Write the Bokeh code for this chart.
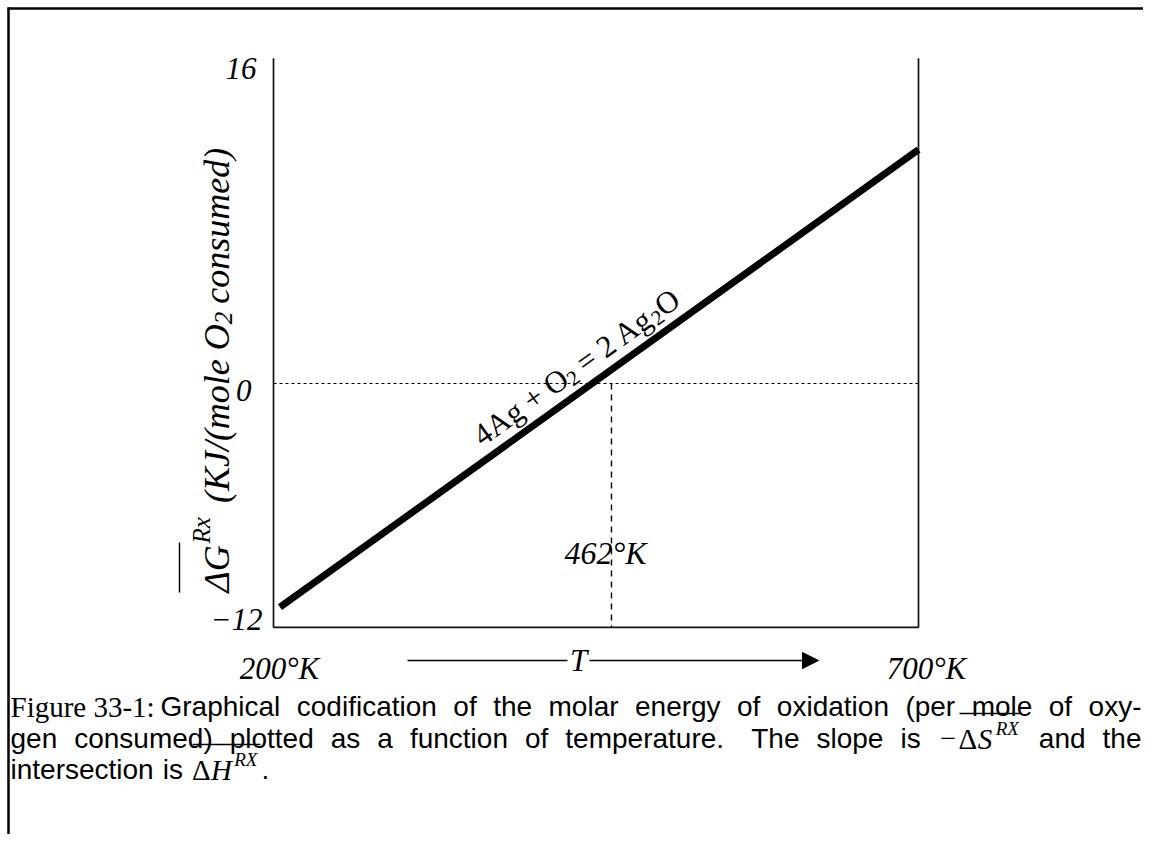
import math
from bokeh.plotting import figure
from bokeh.models import Range1d, Arrow, NormalHead, ColumnDataSource
from bokeh.core.properties import value
from bokeh.embed import file_html
from bokeh.resources import INLINE

# ---------------- data ----------------
T_ends = [200, 700]                 # temperature extent of the diagram (K)
T_end_labels = ["200°K", "700°K"]
G_ticks = [16, 0, -12]              # kJ/(mole O2 consumed)
G_tick_labels = ["16", "0", "−12"]
T_line = [205, 700]                 # reaction line 4Ag + O2 = 2 Ag2O
G_line = [-11.0, 11.5]
T_eq = 462                          # temperature where the line meets ΔG = 0
T_eq_label = "462°K"

# ---------------- layout helpers (picture pixels -> data) ----------------
W, H = 1143, 834
PX_PER_K = 1.29
PX_PER_KJ = 20.33
X_T200 = 273
Y_G0 = 383


def tx(px):
    return T_ends[0] + (px - X_T200) / PX_PER_K


def gy(py):
    return (Y_G0 - py) / PX_PER_KJ


SERIF = value("Liberation Serif")
SANS = value("Liberation Sans")

p = figure(width=W, height=H, title=None,
           x_range=Range1d(tx(0), tx(W)), y_range=Range1d(gy(H), gy(0)),
           output_backend="svg", toolbar_location=None,
           x_axis_location=None, y_axis_location=None, min_border=0)
p.grid.visible = False
p.outline_line_color = None
p.background_fill_color = "white"
p.border_fill_color = "white"


def txt(px, py, s, font=SERIF, size=30, style="normal", align="left",
        baseline="alphabetic", angle=0.0):
    p.text(x=[tx(px)], y=[gy(py)], text=[s], angle=angle, text_font=font,
           text_font_style=style, text_font_size=f"{size}px", text_align=align,
           text_baseline=baseline, text_color="black")


def hrule(x0, x1, py, w=1.4):
    p.segment(x0=[tx(x0)], y0=[gy(py)], x1=[tx(x1)], y1=[gy(py)], line_color="black", line_width=w)


# outer frame (top and left edges)
p.segment(x0=[tx(7), tx(8)], y0=[gy(8), gy(7)], x1=[tx(W), tx(8)], y1=[gy(8), gy(H)],
          line_color="black", line_width=2.5)

# diagram box: left, right and bottom edges
Gmin, Gmax = min(G_ticks), max(G_ticks)
p.segment(x0=[T_ends[0], T_ends[1], T_ends[0]], y0=[Gmin, Gmin, Gmin],
          x1=[T_ends[0], T_ends[1], T_ends[1]], y1=[Gmax, Gmax, Gmin],
          line_color="#111111", line_width=1.7)

# zero line (dotted) and equilibrium temperature (dashed)
p.line(x=T_ends, y=[0, 0], line_color="black", line_width=1.2, line_dash="3 3")
p.line(x=[T_eq, T_eq], y=[0, Gmin], line_color="black", line_width=1.4, line_dash="6 5")

# reaction line
p.line(x=T_line, y=G_line, line_color="black", line_width=7, line_cap="butt")

# tick labels
tick_src = ColumnDataSource(dict(x=[tx(256)] * 3, y=G_ticks, text=G_tick_labels,
                                 xo=[0, -5, 6], yo=[10, 7, -8]))
p.text(x="x", y="y", text="text", x_offset="xo", y_offset="yo", source=tick_src,
       text_font=SERIF, text_font_style="italic", text_font_size="31px",
       text_align="right", text_baseline="middle", text_color="black")

# temperature end labels
LAB_Y = 668
p.text(x=T_ends, y=[gy(LAB_Y)] * 2, text=T_end_labels, x_offset=[6, 8],
       text_font=SERIF, text_font_style="italic", text_font_size="31px",
       text_align="center", text_baseline="middle", text_color="black")

# T arrow
ARR_Y = 660
p.segment(x0=[tx(407)], y0=[gy(ARR_Y)], x1=[tx(567)], y1=[gy(ARR_Y)], line_color="black", line_width=1.5)
p.add_layout(Arrow(end=NormalHead(size=16, fill_color="black", line_color="black"),
                   x_start=tx(589), y_start=gy(ARR_Y), x_end=tx(818), y_end=gy(ARR_Y),
                   line_color="black", line_width=1.5))
txt(578, ARR_Y, "T", size=31, style="italic", align="center", baseline="middle")

# equilibrium label
p.text(x=[T_eq], y=[gy(552)], text=[T_eq_label], x_offset=[-6],
       text_font=SERIF, text_font_style="italic", text_font_size="32px",
       text_align="center", text_baseline="middle", text_color="black")

# ---------------- text metrics (em units) ----------------
TR = {'4': .5, 'A': .722, 'g': .5, ' ': .25, '+': .564, 'O': .722, '=': .564, '2': .5, '−': .564}
TI = {'Δ': .612, 'G': .722, 'R': .611, 'x': .444, ' ': .25, '(': .333, 'K': .667, 'J': .444,
      '/': .278, 'm': .722, 'o': .5, 'l': .278, 'e': .444, 'O': .722, '2': .5, 'c': .444,
      'n': .5, 's': .389, 'u': .5, 'd': .5, ')': .333, 'S': .5, 'H': .722, 'X': .611}
AR = {'a': .556, 'b': .556, 'c': .5, 'd': .556, 'e': .556, 'f': .278, 'g': .556, 'h': .556,
      'i': .222, 'j': .222, 'k': .5, 'l': .222, 'm': .833, 'n': .556, 'o': .556, 'p': .556,
      'q': .556, 'r': .333, 's': .5, 't': .278, 'u': .556, 'v': .5, 'w': .722, 'x': .5,
      'y': .5, 'z': .5, 'G': .778, 'T': .611, 'F': .611, '(': .333, ')': .333, '-': .333,
      '.': .278, ':': .278, ' ': .278}
MW = {'−': .72, 'Δ': .66, 'S': .62, 'H': .80, 'R': .66, 'X': .72}


def tw(s, size, table):
    return sum(table.get(c, .556) for c in s) * size


# reaction label along the line
ang = math.atan2(456, 638)
ux, uy = math.cos(ang), -math.sin(ang)
nx, ny = math.sin(ang), math.cos(ang)
RF, RS = 31, 21
pieces = [("4Ag + O", RF, 0, 0), ("2", RS, 7, 7), ("= 2 Ag", RF, 0, 0), ("2", RS, 7, 0), ("O", RF, 0, 0)]
bx, by = 476, 438
pos = 0
for s, size, dd, gap_after in pieces:
    txt(bx + pos * ux + dd * nx, by + pos * uy + dd * ny, s, size=size, angle=ang)
    pos += tw(s, size, TR) + gap_after

# y-axis title (rotated, reads bottom to top)
YF, YS = 36, 25
base_x, start_y = 216, 592
ypieces = [("ΔG", YF, 0, 1), ("Rx", YS, -15, 14), ("(KJ/(mole O", YF, 0, 0), ("2", YS, 7, 8),
           ("consumed)", YF, 0, 0)]
pos = 0
for s, size, dx, gap_after in ypieces:
    txt(base_x + dx, start_y - pos, s, size=size, style="italic", angle=math.pi / 2)
    if s == "ΔG":
        p.segment(x0=[tx(base_x - 37)], y0=[gy(start_y)], x1=[tx(base_x - 37)],
                  y1=[gy(start_y - tw(s, size, TI) - 2)], line_color="black", line_width=1.4)
    pos += tw(s, size, TI) + gap_after

# ---------------- caption ----------------
CF = 28          # sans caption size
MF, MS = 29, 19  # math size, superscript size
B1, B2, B3 = 706, 738, 769
RIGHT = 1141


def math_width(sym, minus):
    w = MW["−"] * MF if minus else 0
    return w + (MW["Δ"] + MW[sym]) * MF + MS * (MW["R"] + MW["X"])


def draw_math(x, base, sym, minus):
    if minus:
        txt(x + 2, base, "−", size=MF)
        x += MW["−"] * MF
    xs = x
    txt(x, base, "Δ", size=MF)
    x += MW["Δ"] * MF
    txt(x, base, sym, size=MF, style="italic")
    x += MW[sym] * MF
    txt(x, base - 10, "RX", size=MS, style="italic")
    x += MS * (MW["R"] + MW["X"])
    hrule(xs + 1, x, base - 25)


def item_width(it):
    if it[0] == "w":
        return tw(it[1], CF, AR)
    return math_width(it[1], it[2])


def justify(items, x0, x1, base, weights=None):
    widths = [item_width(it) for it in items]
    n = len(items)
    weights = weights or [1.0] * (n - 1)
    gap = (x1 - x0 - sum(widths)) / sum(weights)
    x = x0
    for i, it in enumerate(items):
        if it[0] == "w":
            if i == n - 1:
                txt(x1, base, it[1], font=SANS, size=CF, align="right")
            else:
                txt(x, base, it[1], font=SANS, size=CF)
        else:
            draw_math(x, base, it[1], it[2])
        if i < n - 1:
            x += widths[i] + gap * weights[i]


txt(10, B1, "Figure 33-1:", size=29)
line1 = ["Graphical", "codification", "of", "the", "molar", "energy", "of", "oxidation",
         "(per", "mole", "of", "oxy-"]
justify([("w", w) for w in line1], 160, RIGHT, B1)

line2 = [("w", "gen"), ("w", "consumed)"), ("w", "plotted"), ("w", "as"), ("w", "a"),
         ("w", "function"), ("w", "of"), ("w", "temperature."), ("w", "The"), ("w", "slope"),
         ("w", "is"), ("m", "S", True), ("w", "and"), ("w", "the")]
wts = [1.0] * (len(line2) - 1)
wts[7] = 1.6
justify(line2, 10, RIGHT, B2, wts)

x = 10
txt(x, B3, "intersection", font=SANS, size=CF)
x += tw("intersection", CF, AR) + 9
txt(x, B3, "is", font=SANS, size=CF)
x += tw("is", CF, AR) + 9
draw_math(x, B3, "H", False)
x += math_width("H", False) + 1
txt(x, B3, ".", font=SANS, size=CF)

open("out.html", "w").write(file_html(p, INLINE))
